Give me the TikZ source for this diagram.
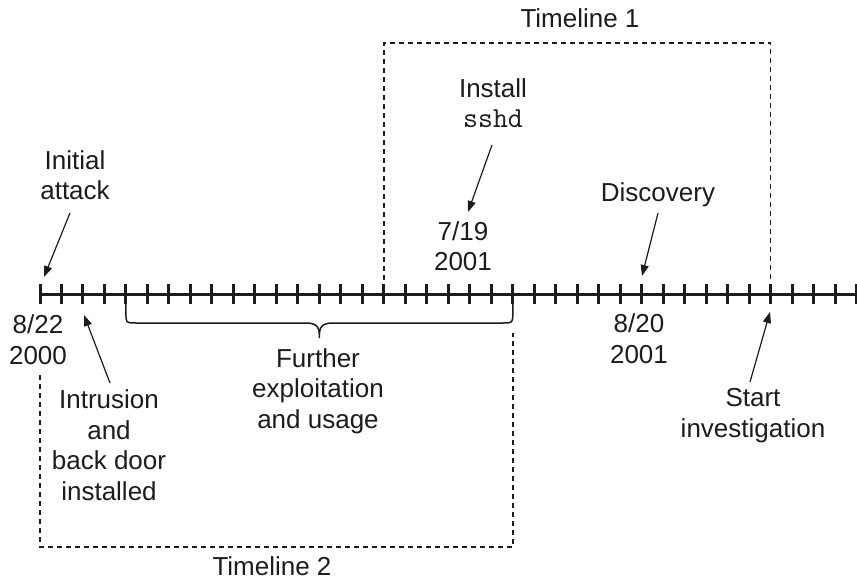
\documentclass[tikz,border=0pt]{standalone}
\usepackage{fontspec}
\setmainfont{Liberation Sans}
\usetikzlibrary{arrows.meta,calc}
\definecolor{ink}{HTML}{1C1C1C}
\newcommand{\cmdname}[1]{{\ttfamily\fontsize{29}{30.5}\selectfont #1}}
\begin{document}
\begin{tikzpicture}[x=1pt,y=-1pt,
  % labels are placed by the baseline of their last line
  lbl/.style={inner sep=0pt,anchor=base,align=center,text=ink,
    font=\fontsize{26}{30.5}\selectfont},
  axisline/.style={draw=ink,line width=3pt},
  tickmark/.style={draw=ink,line width=3pt},
  pointer/.style={draw=ink,line width=1.2pt,-{Triangle[length=11pt,width=8pt]}},
  dashbox/.style={draw=ink,line width=1.5pt,dash pattern=on 5pt off 4pt},
  bracepath/.style={draw=ink,line width=1.5pt}]
\useasboundingbox (0,0) rectangle (857,580);

% time axis with one tick per unit
\foreach \i in {0,...,38} \coordinate (t\i) at ({40+21.49*\i},294);
\draw[axisline] (t0) -- (t38);
\foreach \i in {0,...,38}
  \draw[tickmark] ($(t\i)+(0,-10)$) -- ($(t\i)+(0,10)$);

% dashed window of timeline 1
\draw[dashbox] ($(t16)+(0,-14)$) -- ($(t16)+(0,-251)$)
  -- ($(t34)+(0,-251)$) -- ($(t34)+(0,-14)$);
\node[lbl] (tl1) at (580,28) {Timeline 1};

% dashed window of timeline 2
\draw[dashbox] ($(t0)+(0,81)$) -- ($(t0)+(0,253)$)
  -- ($(t22)+(0,253)$) -- ($(t22)+(0,39)$);
\node[lbl] (tl2) at (272,575) {Timeline 2};

% brace under the exploitation period
\coordinate (bmid) at ($(t4)!0.5!(t22)$);
\draw[bracepath] ($(t4)+(0,9)$) -- ($(t4)+(0,19)$)
  .. controls ($(t4)+(0,29)$) .. ($(t4)+(10,29)$)
  -- ($(bmid)+(-13,29)$)
  .. controls ($(bmid)+(0,29)$) and ($(bmid)+(0,36)$) .. ($(bmid)+(0,44)$)
  .. controls ($(bmid)+(0,36)$) and ($(bmid)+(0,29)$) .. ($(bmid)+(13,29)$)
  -- ($(t22)+(-10,29)$)
  .. controls ($(t22)+(0,29)$) .. ($(t22)+(0,19)$) -- ($(t22)+(0,9)$);
\node[lbl] (further) at (318,428) {Further\\exploitation\\and usage};

% events above the axis
\node[lbl] (initial) at (75,200) {Initial\\attack};
\coordinate (initialfrom) at (70,213);
\coordinate (initialto) at (44,277);
\draw[pointer] (initialfrom) -- (initialto);

\node[lbl] (install) at (493,128) {Install\\\cmdname{sshd}};
\coordinate (installfrom) at (492,145);
\coordinate (installto) at (468,212);
\draw[pointer] (installfrom) -- (installto);
\node[lbl] (d0719) at (463,271) {7/19\\2001};

\node[lbl] (discovery) at (658,202) {Discovery};
\coordinate (discfrom) at (658,213);
\coordinate (discto) at (642,276);
\draw[pointer] (discfrom) -- (discto);

% events and dates below the axis
\node[lbl] (d0822) at (38,364) {8/22\\2000};
\node[lbl] (intrusion) at (109,500) {Intrusion\\and\\back door\\installed};
\coordinate (intrfrom) at (110,383);
\coordinate (intrto) at (84,315);
\draw[pointer] (intrfrom) -- (intrto);

\node[lbl] (d0820) at (639,363) {8/20\\2001};
\node[lbl] (start) at (753,437) {Start\\investigation};
\coordinate (startfrom) at (750,382);
\coordinate (startto) at (770,312);
\draw[pointer] (startfrom) -- (startto);
\end{tikzpicture}
\end{document}
